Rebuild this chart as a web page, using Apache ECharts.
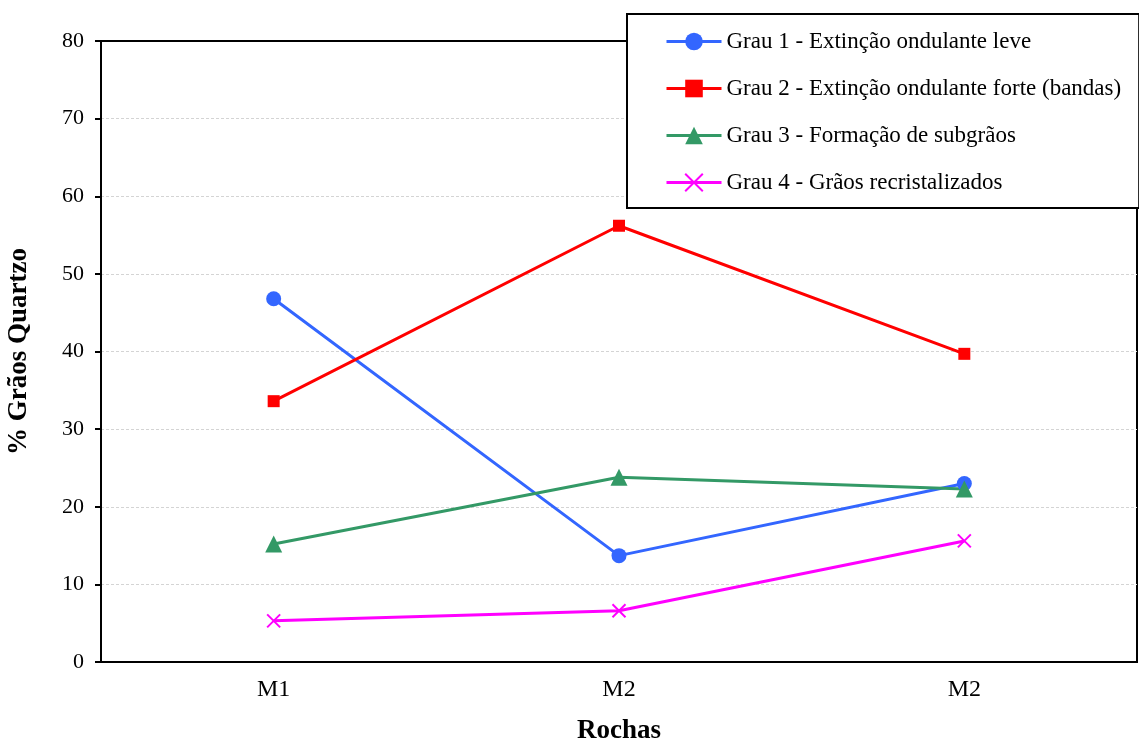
<!DOCTYPE html>
<html>
<head>
<meta charset="utf-8">
<script src="https://cdn.jsdelivr.net/npm/echarts@6/dist/echarts.min.js"></script>
<style>html,body{margin:0;padding:0;background:#fff;}#c{width:1139px;height:746px;}</style>
</head>
<body>
<div id="c"></div>
<script>
const categories = ['M1', 'M2', 'M2'];
const seriesNames = [
  'Grau 1 - Extinção ondulante leve',
  'Grau 2 - Extinção ondulante forte (bandas)',
  'Grau 3 - Formação de subgrãos',
  'Grau 4 - Grãos recristalizados'
];
const grau1 = [46.8, 13.7, 23.0];
const grau2 = [33.6, 56.2, 39.7];
const grau3 = [15.2, 23.8, 22.3];
const grau4 = [5.3, 6.6, 15.6];
const yTicks = [0, 10, 20, 30, 40, 50, 60, 70, 80];

const FONT = '"Liberation Serif", "Times New Roman", serif';
const chart = echarts.init(document.getElementById('c'), null, {renderer: 'canvas'});

function mk(name, data, color, symbol, size, extra) {
  return Object.assign({
    name: name, type: 'line', data: data,
    symbol: symbol, symbolSize: size, showSymbol: true,
    lineStyle: {color: color, width: 3},
    itemStyle: {color: color},
    animation: false
  }, extra || {});
}

chart.setOption({
  animation: false,
  backgroundColor: '#fff',
  grid: {left: 101, right: 2, top: 41, bottom: 84, show: true, borderColor: '#000', borderWidth: 2,
    backgroundColor: 'transparent', containLabel: false, outerBoundsMode: 'none'},
  legend: {
    orient: 'vertical', left: 627, top: 14,
    backgroundColor: '#fff', borderColor: '#000', borderWidth: 2,
    padding: [16, 18, 14, 38],
    itemWidth: 55, itemHeight: 22, itemGap: 24,
    lineStyle: {width: 3},
    textStyle: {fontFamily: FONT, fontSize: 23, color: '#000'},
    data: seriesNames
  },
  xAxis: {
    type: 'category', data: categories, boundaryGap: true,
    name: 'Rochas', nameLocation: 'middle', nameGap: 56,
    nameTextStyle: {fontFamily: FONT, fontSize: 27, fontWeight: 'bold', color: '#000'},
    axisLine: {lineStyle: {color: '#000', width: 2}},
    axisTick: {show: false},
    axisLabel: {fontFamily: FONT, fontSize: 24, color: '#000', margin: 16},
    splitLine: {show: false}
  },
  yAxis: {
    type: 'value', min: 0, max: 80, interval: 10,
    name: '% Grãos Quartzo', nameLocation: 'middle', nameGap: 68,
    nameTextStyle: {fontFamily: FONT, fontSize: 27, fontWeight: 'bold', color: '#000'},
    axisLine: {show: true, lineStyle: {color: '#000', width: 2}},
    axisTick: {show: true, inside: false, length: 6, lineStyle: {color: '#000', width: 2}},
    axisLabel: {fontFamily: FONT, fontSize: 22, color: '#000', margin: 17,
      formatter: function (v) { return yTicks.indexOf(v) >= 0 ? String(v) : ''; }},
    splitLine: {show: true, showMinLine: false, showMaxLine: false,
      lineStyle: {color: '#d4d4d4', width: 1, type: [3, 2]}}
  },
  series: [
    mk(seriesNames[0], grau1, '#3366FF', 'circle', 15),
    mk(seriesNames[1], grau2, '#FF0000', 'rect', 12),
    mk(seriesNames[2], grau3, '#339966', 'triangle', 17),
    mk(seriesNames[3], grau4, '#FF00FF', 'path://M0,0L10,10M10,0L0,10', 13,
      {itemStyle: {color: 'rgba(0,0,0,0)', borderColor: '#FF00FF', borderWidth: 2}})
  ]
});
</script>
</body>
</html>
